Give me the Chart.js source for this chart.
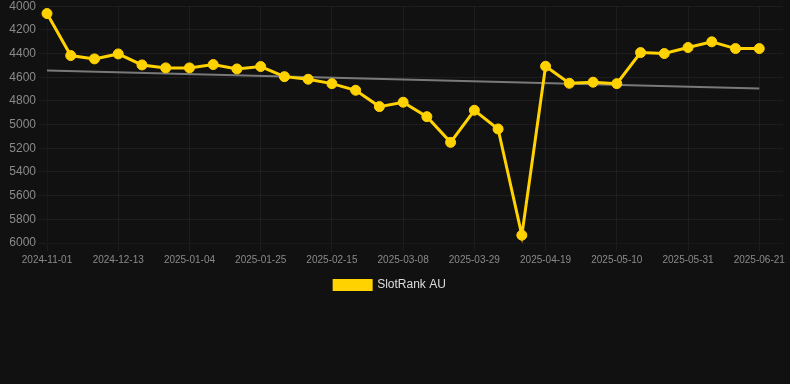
<!DOCTYPE html>
<html>
<head>
<meta charset="utf-8">
<script src="https://cdn.jsdelivr.net/npm/chart.js@4"></script>
<style>
  html, body { margin: 0; padding: 0; background: #111111; }
  #wrap { width: 790px; height: 305px; margin-top: -4px; }
</style>
</head>
<body>
<div id="wrap"><canvas id="myChart"></canvas></div>
<script>
const dates = [
    "2024-11-01", "2024-11-15", "2024-11-29", "2024-12-13", "2024-12-20", "2024-12-27",
    "2025-01-04", "2025-01-11", "2025-01-18", "2025-01-25", "2025-02-01", "2025-02-08",
    "2025-02-15", "2025-02-22", "2025-03-01", "2025-03-08", "2025-03-15", "2025-03-22",
    "2025-03-29", "2025-04-05", "2025-04-12", "2025-04-19", "2025-04-26", "2025-05-03",
    "2025-05-10", "2025-05-17", "2025-05-24", "2025-05-31", "2025-06-07", "2025-06-14",
    "2025-06-21", "2025-06-28"
];

const rankAU = [
    4062, 4417, 4445, 4403, 4496, 4521, 4521, 4493, 4530, 4510,
    4595, 4617, 4654, 4710, 4848, 4811, 4933, 5150, 4879, 5037,
    5934, 4507, 4651, 4642, 4654, 4392, 4400, 4349, 4301, 4358,
    4358
];

const trendStart = 4544;
const trendEnd = 4696;

const GOLD = "#ffd200";
Chart.defaults.font.family = "'Liberation Sans', Arial, sans-serif";

// nudge the legend a little to the left, like the original
const legendShift = {
    id: "legendShift",
    afterLayout(chart) {
        chart.legend.left -= 9;
        chart.legend.right -= 9;
    }
};

new Chart(document.getElementById("myChart").getContext("2d"), {
    type: "line",
    data: {
        labels: dates,
        datasets: [
            {
                label: "SlotRank AU",
                data: rankAU,
                borderColor: GOLD,
                backgroundColor: GOLD,
                borderWidth: 3,
                pointRadius: 5,
                pointBorderWidth: 1,
                pointHoverRadius: 6,
                tension: 0,
                fill: false
            },
            {
                label: "Trend",
                data: [
                    { x: dates[0], y: trendStart },
                    { x: dates[rankAU.length - 1], y: trendEnd }
                ],
                borderColor: "rgba(140, 140, 140, 0.85)",
                borderWidth: 2,
                pointRadius: 0,
                tension: 0,
                fill: false
            }
        ]
    },
    plugins: [legendShift],
    options: {
        responsive: true,
        maintainAspectRatio: false,
        animation: false,
        layout: { padding: { right: -8 } },
        plugins: {
            legend: {
                position: "bottom",
                labels: {
                    color: "#dddddd",
                    font: { size: 12 },
                    boxWidth: 37,
                    boxHeight: 9,
                    filter: item => item.datasetIndex === 0
                }
            },
            tooltip: { enabled: false }
        },
        scales: {
            x: {
                grid: { color: "rgba(255,255,255,0.05)" },
                ticks: {
                    color: "#8a8a8a",
                    font: { size: 10 },
                    autoSkip: false,
                    maxRotation: 0,
                    callback: function(value, index) {
                        return index % 3 === 0 ? this.getLabelForValue(value) : null;
                    }
                }
            },
            y: {
                reverse: true,
                min: 4000,
                max: 6000,
                afterFit: scale => { scale.width = 47; },
                grid: { color: "rgba(255,255,255,0.05)" },
                ticks: {
                    color: "#8a8a8a",
                    font: { size: 12 },
                    stepSize: 200,
                    callback: value => String(value)
                }
            }
        }
    }
});
</script>
</body>
</html>
